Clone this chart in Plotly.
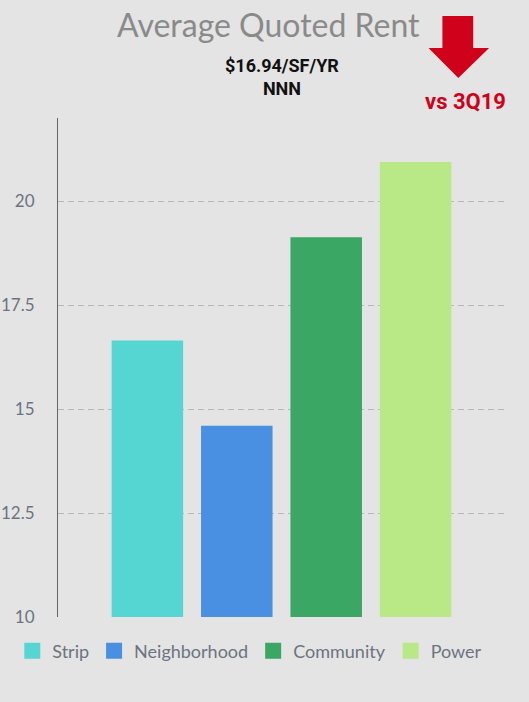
import plotly.graph_objects as go

categories = ["Strip", "Neighborhood", "Community", "Power"]
values = [16.65, 14.60, 19.13, 20.94]
colors = ["#56d6d2", "#4a90e2", "#3aa864", "#b9e986"]
tick_vals = [10, 12.5, 15, 17.5, 20]
tick_text = ["10", "12.5", "15", "17.5", "20"]

W, H = 529, 702
L, R, T, B = 55, 24, 118, 85
pw, ph = W - L - R, H - T - B

def px(x):
    return (x - L) / pw

def py(y):
    return (H - B - y) / ph

fig = go.Figure()
for c, v, col in zip(categories, values, colors):
    fig.add_trace(go.Bar(x=["Q"], y=[v], name=c, marker=dict(color=col, line=dict(width=0)),
                         showlegend=False))
    fig.add_trace(go.Scatter(x=[None], y=[None], mode="markers", name=c,
                             marker=dict(symbol="square", size=18, color=col)))

arrow = [(442, 16), (473, 16), (473, 48), (489, 48), (458, 78), (428, 48), (442, 48)]
path = "M " + " L ".join(f"{px(x)},{py(y)}" for x, y in arrow) + " Z"

fig.update_layout(
    width=W, height=H,
    margin=dict(l=L, r=R, t=T, b=B),
    paper_bgcolor="#e4e4e4", plot_bgcolor="#e4e4e4",
    barmode="group", bargap=0.2, bargroupgap=0.2,
    font=dict(family="Lato", color="#6b7480", size=17),
    xaxis=dict(showticklabels=False, showgrid=False, zeroline=False, showline=False,
               automargin=False),
    yaxis=dict(range=[10, 22], tickvals=tick_vals, ticktext=tick_text, showgrid=True,
               gridcolor="#b8b8b8", griddash="6px,4px", gridwidth=1, zeroline=False,
               showline=True, linecolor="#666666", linewidth=1, automargin=False,
               tickfont=dict(family="Lato", size=17, color="#6b7480"), ticks="", ticklabelstandoff=19),
    legend=dict(orientation="h", x=px(9), xanchor="left", y=py(651), yanchor="middle",
                font=dict(family="Lato", size=18, color="#6b7480"), itemwidth=30,
                bgcolor="rgba(0,0,0,0)"),
    shapes=[dict(type="path", xref="paper", yref="paper", path=path,
                 fillcolor="#d0021b", line=dict(width=0))],
    annotations=[
        dict(text="Average Quoted Rent", xref="paper", yref="paper", x=px(267), y=py(24),
             xanchor="center", showarrow=False,
             font=dict(family="Lato", size=32, color="#8a8a8a"), yanchor="middle"),
        dict(text="<b>$16.94/SF/YR<br>NNN</b>", xref="paper", yref="paper", x=px(280), y=py(77),
             xanchor="center", showarrow=False,
             font=dict(family="Roboto", size=18, color="#111111"), yanchor="middle"),
        dict(text="<b>vs 3Q19</b>", xref="paper", yref="paper", x=px(465), y=py(101),
             xanchor="center", showarrow=False,
             font=dict(family="Roboto", size=22, color="#d0021b"), yanchor="middle"),
    ],
)

fig.write_html("out.html", config={"displayModeBar": False},
               post_script="document.body.style.margin='0';")
